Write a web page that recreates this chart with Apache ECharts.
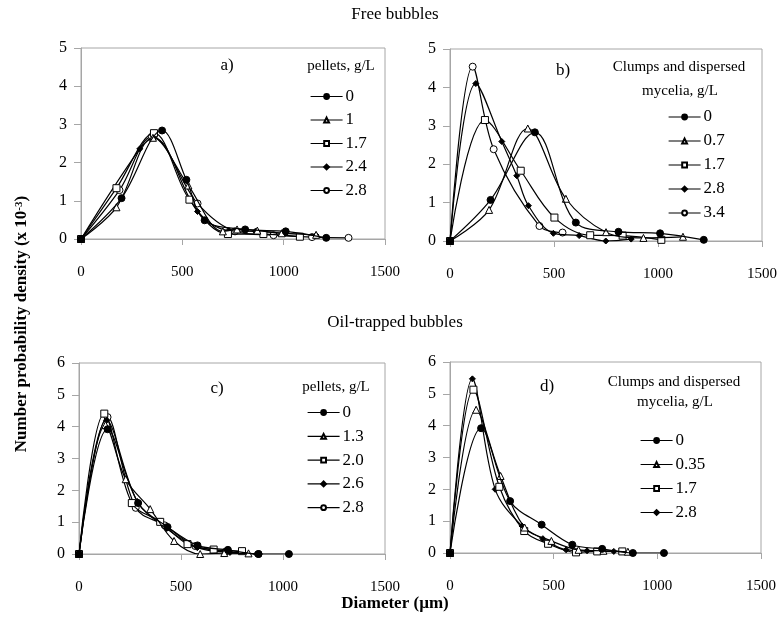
<!DOCTYPE html>
<html>
<head>
<meta charset="utf-8">
<script src="https://cdn.jsdelivr.net/npm/echarts@6/dist/echarts.min.js"></script>
<style>
  html, body { margin: 0; padding: 0; background: #fff; }
  #chart { width: 783px; height: 627px; }
</style>
</head>
<body>
<div id="chart"></div>
<script>
// tick labels
const xTicks = [0, 500, 1000, 1500];
const yMaxTop = 5;
const yMaxBottom = 6;

// a) free bubbles, pellets (g/L)
const aNames = ['0', '1', '1.7', '2.4', '2.8'];
const a0 = [[0, 0], [200, 1.07], [400, 2.84], [520, 1.55], [610, 0.49], [810, 0.25], [1010, 0.2], [1210, 0.03]];
const a1 = [[0, 0], [175, 0.83], [355, 2.65], [530, 1.4], [700, 0.2], [770, 0.25], [870, 0.22], [990, 0.15], [1160, 0.11]];
const a2 = [[0, 0], [175, 1.33], [360, 2.77], [535, 1.03], [725, 0.13], [900, 0.13], [1080, 0.06]];
const a3 = [[0, 0], [290, 2.36], [360, 2.65], [575, 0.72], [730, 0.22], [860, 0.2], [1010, 0.15], [1160, 0.1]];
const a4 = [[0, 0], [190, 1.28], [350, 2.68], [575, 0.93], [760, 0.2], [950, 0.1], [1140, 0.05], [1320, 0.03]];

// b) free bubbles, clumps and dispersed mycelia (g/L)
const bNames = ['0', '0.7', '1.7', '2.8', '3.4'];
const b0 = [[0, 0], [195, 1.07], [408, 2.83], [605, 0.48], [810, 0.24], [1010, 0.2], [1220, 0.03]];
const b1 = [[0, 0], [188, 0.81], [374, 2.93], [557, 1.1], [750, 0.23], [930, 0.08], [1120, 0.11]];
const b2 = [[0, 0], [168, 3.15], [340, 1.83], [502, 0.61], [674, 0.15], [830, 0.14], [1016, 0.03]];
const b3 = [[0, 0], [124, 4.1], [249, 2.59], [321, 1.7], [377, 0.92], [497, 0.2], [621, 0.14], [749, 0], [871, 0.05]];
const b4 = [[0, 0], [109, 4.54], [210, 2.39], [430, 0.39], [541, 0.22]];

// c) oil-trapped bubbles, pellets (g/L)
const cNames = ['0', '1.3', '2.0', '2.6', '2.8'];
const c0 = [[0, 0], [140, 3.92], [290, 1.6], [434, 0.85], [581, 0.27], [730, 0.13], [880, 0], [1029, 0]];
const c1 = [[0, 0], [130, 4.05], [229, 2.35], [349, 1.41], [466, 0.41], [594, 0], [712, 0.03], [831, 0.02]];
const c2 = [[0, 0], [124, 4.41], [259, 1.6], [398, 1.01], [532, 0.31], [660, 0.14], [799, 0.09]];
const c3 = [[0, 0], [135, 4.2], [286, 1.65], [430, 0.8], [580, 0.2], [740, 0.05], [870, 0]];
const c4 = [[0, 0], [140, 4.3], [278, 1.45], [420, 0.9], [570, 0.25], [720, 0.08], [880, 0]];

// d) oil-trapped bubbles, clumps and dispersed mycelia (g/L)
const dNames = ['0', '0.35', '1.7', '2.8'];
const d0 = [[0, 0], [150, 3.92], [290, 1.63], [442, 0.89], [590, 0.26], [734, 0.13], [882, 0], [1032, 0]];
const d1 = [[0, 0], [126, 4.5], [244, 2.42], [360, 0.8], [489, 0.38], [620, 0.1], [740, 0.07], [858, 0.04]];
const d2 = [[0, 0], [113, 5.13], [238, 2.08], [358, 0.69], [473, 0.29], [608, 0.02], [710, 0.05], [831, 0.05]];
const d3 = [[0, 0], [108, 5.47], [218, 2.0], [347, 0.85], [448, 0.45], [560, 0.1], [661, 0.07], [790, 0.05]];

const FONT = 'Liberation Serif';
const AXIS_GRAY = '#a6a6a6';

const marks = {
  dot: { symbol: 'circle', symbolSize: 7, fill: '#000' },
  tri: { symbol: 'triangle', symbolSize: 7, fill: '#fff' },
  sq: { symbol: 'rect', symbolSize: 7, fill: '#fff' },
  dia: { symbol: 'diamond', symbolSize: 6, fill: '#000' },
  ring: { symbol: 'circle', symbolSize: 7, fill: '#fff' }
};
const markOrder = ['dot', 'tri', 'sq', 'dia', 'ring'];

const grids = [
  { left: 81, top: 48, width: 304, height: 191 },
  { left: 450, top: 49, width: 312, height: 192 },
  { left: 79, top: 363, width: 306, height: 191 },
  { left: 450, top: 362, width: 311, height: 191 }
];

const panels = [
  { key: 'a', names: aNames, data: [a0, a1, a2, a3, a4] },
  { key: 'b', names: bNames, data: [b0, b1, b2, b3, b4] },
  { key: 'c', names: cNames, data: [c0, c1, c2, c3, c4] },
  { key: 'd', names: dNames, data: [d0, d1, d2, d3] }
];

const series = [];
panels.forEach((p, gi) => {
  p.data.forEach((pts, si) => {
    const m = marks[markOrder[si]];
    series.push({
      name: p.key + '|' + p.names[si],
      type: 'line',
      xAxisIndex: gi,
      yAxisIndex: gi,
      data: pts,
      smooth: 0.35,
      symbol: m.symbol,
      symbolSize: m.symbolSize,
      showSymbol: true,
      lineStyle: { color: '#000', width: 1.2 },
      itemStyle: { color: m.fill, borderColor: '#000', borderWidth: 1 },
      z: 10 - si
    });
  });
});

const xAxes = grids.map((g, i) => ({
  type: 'value',
  gridIndex: i,
  min: xTicks[0],
  max: xTicks[xTicks.length - 1],
  interval: 500,
  axisLine: { show: true, lineStyle: { color: AXIS_GRAY } },
  axisTick: { show: true, length: 6, lineStyle: { color: AXIS_GRAY } },
  splitLine: { show: false },
  axisLabel: {
    color: '#000', fontFamily: FONT, fontSize: 15, margin: 26,
    formatter: v => String(v)
  }
}));

const yAxes = grids.map((g, i) => ({
  type: 'value',
  gridIndex: i,
  min: 0,
  max: i < 2 ? yMaxTop : yMaxBottom,
  interval: 1,
  axisLine: { show: true, lineStyle: { color: AXIS_GRAY } },
  axisTick: { show: true, length: 7, lineStyle: { color: AXIS_GRAY } },
  splitLine: { show: false },
  axisLabel: { color: '#000', fontFamily: FONT, fontSize: 16, margin: 14 }
}));

const legendPos = [
  { left: 310, top: 88, gap: 6.5 },
  { left: 668, top: 108.5, gap: 7 },
  { left: 307, top: 404, gap: 6.8 },
  { left: 640, top: 432, gap: 7 }
];

const legends = panels.map((p, i) => ({
  orient: 'vertical',
  left: legendPos[i].left,
  top: legendPos[i].top,
  padding: 0,
  itemWidth: 32,
  itemHeight: 6,
  itemGap: legendPos[i].gap,
  selectedMode: false,
  data: p.names.map(n => p.key + '|' + n),
  formatter: name => name.split('|')[1],
  lineStyle: { width: 1.2 },
  textStyle: { fontFamily: FONT, fontSize: 17, color: '#000', lineHeight: 17, padding: [0, 0, 0, -2] }
}));

const txt = (x, y, text, size, extra) => ({
  type: 'text',
  x: x,
  y: y,
  style: Object.assign({
    text: text,
    fontFamily: FONT,
    fontSize: size,
    fill: '#000',
    textAlign: 'center',
    textVerticalAlign: 'middle'
  }, extra || {})
});

const graphics = [
  txt(395, 15, 'Free bubbles', 17),
  txt(395, 323, 'Oil-trapped bubbles', 17),
  txt(395, 604, 'Diameter (\u00b5m)', 17, { fontWeight: 'bold' }),
  txt(227, 66, 'a)', 17),
  txt(563, 71, 'b)', 17),
  txt(217, 389, 'c)', 17),
  txt(547, 387, 'd)', 17),
  txt(341, 66, 'pellets, g/L', 15),
  txt(679, 67, 'Clumps and dispersed', 15),
  txt(680, 91, 'mycelia, g/L', 15),
  txt(336, 387, 'pellets, g/L', 15),
  txt(674, 382, 'Clumps and dispersed', 15),
  txt(675, 402, 'mycelia, g/L', 15),
  {
    type: 'text',
    x: 22,
    y: 324,
    rotation: Math.PI / 2,
    style: {
      text: '{b|Number probability density (x 10}{s|-3}{b|)}',
      textAlign: 'center',
      textVerticalAlign: 'middle',
      rich: {
        b: { fontFamily: FONT, fontSize: 17, fontWeight: 'bold', fill: '#000', color: '#000' },
        s: { fontFamily: FONT, fontSize: 11, fontWeight: 'bold', fill: '#000', color: '#000', verticalAlign: 'top' }
      }
    }
  }
];

const chart = echarts.init(document.getElementById('chart'));
chart.setOption({
  animation: false,
  backgroundColor: '#fff',
  grid: grids.map(g => Object.assign({ show: true, borderColor: AXIS_GRAY, borderWidth: 1 }, g)),
  xAxis: xAxes,
  yAxis: yAxes,
  legend: legends,
  graphic: graphics,
  series: series
});
</script>
</body>
</html>
